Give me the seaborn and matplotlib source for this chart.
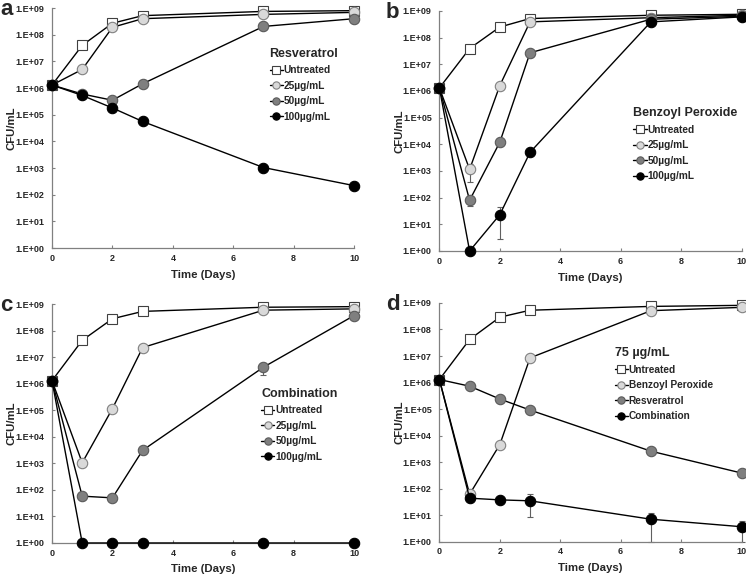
import numpy as np
import pandas as pd
import matplotlib
matplotlib.use("Agg")
import matplotlib.pyplot as plt
import matplotlib.ticker as mticker
import seaborn as sns

# =========================
# DATA
# =========================
days = [0, 1, 2, 3, 7, 10]

# panel a - resveratrol
a_untreated = [1.3e6, 4.0e7, 2.7e8, 5.2e8, 7.5e8, 8.0e8]
a_25 = [1.3e6, 5.0e6, 1.9e8, 4.0e8, 5.8e8, 6.9e8]
a_50 = [1.3e6, 6.0e5, 3.5e5, 1.45e6, 2.05e8, 4.0e8]
a_100 = [1.3e6, 5.3e5, 1.8e5, 5.6e4, 1.05e3, 2.2e2]

# panel b - benzoyl peroxide
b_untreated = [1.3e6, 3.9e7, 2.5e8, 5.2e8, 6.9e8, 7.5e8]
b_25 = [1.3e6, 1.15e3, 1.6e6, 3.9e8, 5.6e8, 6.9e8]
b_50 = [1.3e6, 80, 1.2e4, 2.7e7, 4.9e8, 6.3e8]
b_100 = [1.3e6, 1.0, 23, 5.0e3, 3.9e8, 6.0e8]

# panel c - combination
c_untreated = [1.3e6, 4.3e7, 2.8e8, 5.3e8, 7.6e8, 8.0e8]
c_25 = [1.3e6, 1.05e3, 1.15e5, 2.3e7, 5.9e8, 6.6e8]
c_50 = [1.3e6, 58, 50, 3.1e3, 4.2e6, 3.7e8]
c_100 = [1.3e6, 1.0, 1.0, 1.0, 1.0, 1.0]

# panel d - 75 ug/mL
d_untreated = [1.3e6, 4.2e7, 2.9e8, 5.3e8, 7.4e8, 8.1e8]
d_bp = [1.3e6, 62, 4.6e3, 8.5e6, 5.1e8, 6.8e8]
d_res = [1.3e6, 7.3e5, 2.4e5, 9.2e4, 2.6e3, 3.9e2]
d_comb = [1.3e6, 44, 38, 35, 7.1, 3.7]

# error bars: (day, value, lower, upper)
b_err = [(1, 1.15e3, 3.8e2, 1.9e3), (1, 80, 50, 80), (2, 23, 2.7, 45)]
c_err = [(3, 3.1e3, 2.3e3, 3.6e3), (7, 4.2e6, 2.2e6, 6.0e6)]
d_err = [(1, 44, 35, 50), (3, 35, 8.7, 62), (7, 7.1, 1.0, 12.7), (10, 3.7, 1.0, 6.2)]

dose_labels = ["Untreated", "25µg/mL", "50µg/mL", "100µg/mL"]
d_labels = ["Untreated", "Benzoyl Peroxide", "Resveratrol", "Combination"]

# marker styles: (marker, face, edge)
styles = [("s", "white", "#404040"),
          ("o", "#d9d9d9", "#808080"),
          ("o", "#7f7f7f", "#5a5a5a"),
          ("o", "black", "black")]

# =========================
# PLOT
# =========================
sns.set_style("ticks")
plt.rcParams["font.family"] = ["Liberation Sans", "DejaVu Sans"]
plt.rcParams["font.weight"] = "bold"

fig = plt.figure(figsize=(7.46, 5.77), dpi=100)

# panel boxes [left, bottom, width, height], legend anchor, letter x
panels = [
    ("a", [0.0697, 0.570, 0.405, 0.416], "Resveratrol",
     [a_untreated, a_25, a_50, a_100], dose_labels, [], (0.72, 0.835), 0.0),
    ("b", [0.589, 0.565, 0.405, 0.416], "Benzoyl Peroxide",
     [b_untreated, b_25, b_50, b_100], dose_labels, b_err, (0.642, 0.60), 0.517),
    ("c", [0.0697, 0.059, 0.405, 0.414], "Combination",
     [c_untreated, c_25, c_50, c_100], dose_labels, c_err, (0.692, 0.65), 0.0),
    ("d", [0.589, 0.061, 0.405, 0.414], "75 µg/mL",
     [d_untreated, d_bp, d_res, d_comb], d_labels, d_err, (0.58, 0.815), 0.517),
]

for letter, box, title, series, labels, errs, anchor, lx in panels:
    ax = fig.add_axes(box)

    # error bars first so markers sit on top
    for day, val, lo, hi in errs:
        ax.errorbar([day], [val], yerr=[[val - lo], [hi - val]], fmt="none",
                    ecolor="#606060", elinewidth=0.8, capsize=2.5,
                    capthick=0.8, zorder=2, clip_on=False)

    for vals, lab, (mk, fc, ec) in zip(series, labels, styles):
        df = pd.DataFrame({"day": days, "cfu": vals})
        sns.lineplot(data=df, x="day", y="cfu", ax=ax, color="black",
                     linewidth=1.0, marker=mk, markersize=7.5,
                     markerfacecolor=fc, markeredgecolor=ec,
                     markeredgewidth=0.8, label=lab, clip_on=False, zorder=3)

    ax.set_yscale("log")
    ax.set_ylim(1, 1e9)
    ax.set_xlim(0, 10)
    ax.set_yticks([10.0 ** k for k in range(10)])
    ax.yaxis.set_major_formatter(
        mticker.FuncFormatter(lambda v, p: f"1.E+{int(round(np.log10(v))):02d}"))
    ax.yaxis.set_minor_locator(mticker.NullLocator())
    ax.set_xticks([0, 2, 4, 6, 8, 10])

    ax.tick_params(axis="both", labelsize=6.5, length=2.5, width=0.8,
                   color="#808080", direction="in")
    ax.tick_params(axis="y", pad=5.5)
    ax.tick_params(axis="x", pad=4)
    for t in ax.get_xticklabels() + ax.get_yticklabels():
        t.set_fontweight("bold")
    for side in ["top", "right"]:
        ax.spines[side].set_visible(False)
    for side in ["left", "bottom"]:
        ax.spines[side].set_color("#808080")
        ax.spines[side].set_linewidth(0.9)

    ax.set_xlabel("Time (Days)", fontsize=8.2, fontweight="bold")
    ax.set_ylabel("CFU/mL", fontsize=8.2, fontweight="bold")
    ax.xaxis.set_label_coords(0.5, -0.09)
    ax.yaxis.set_label_coords(-0.116, 0.5)

    leg = ax.legend(title=title, loc="upper left", bbox_to_anchor=anchor,
                    frameon=False, fontsize=7.3, title_fontsize=9,
                    alignment="left", handlelength=1.3, handletextpad=0.1,
                    labelspacing=0.55, borderpad=0, borderaxespad=0,
                    markerscale=0.7)
    leg.get_title().set_fontweight("bold")
    for t in leg.get_texts():
        t.set_fontweight("bold")

    fig.text(lx, box[1] + box[3] - 0.003, letter,
             fontsize=16, fontweight="bold", va="center", ha="left")

fig.savefig("out.png", dpi=100)
